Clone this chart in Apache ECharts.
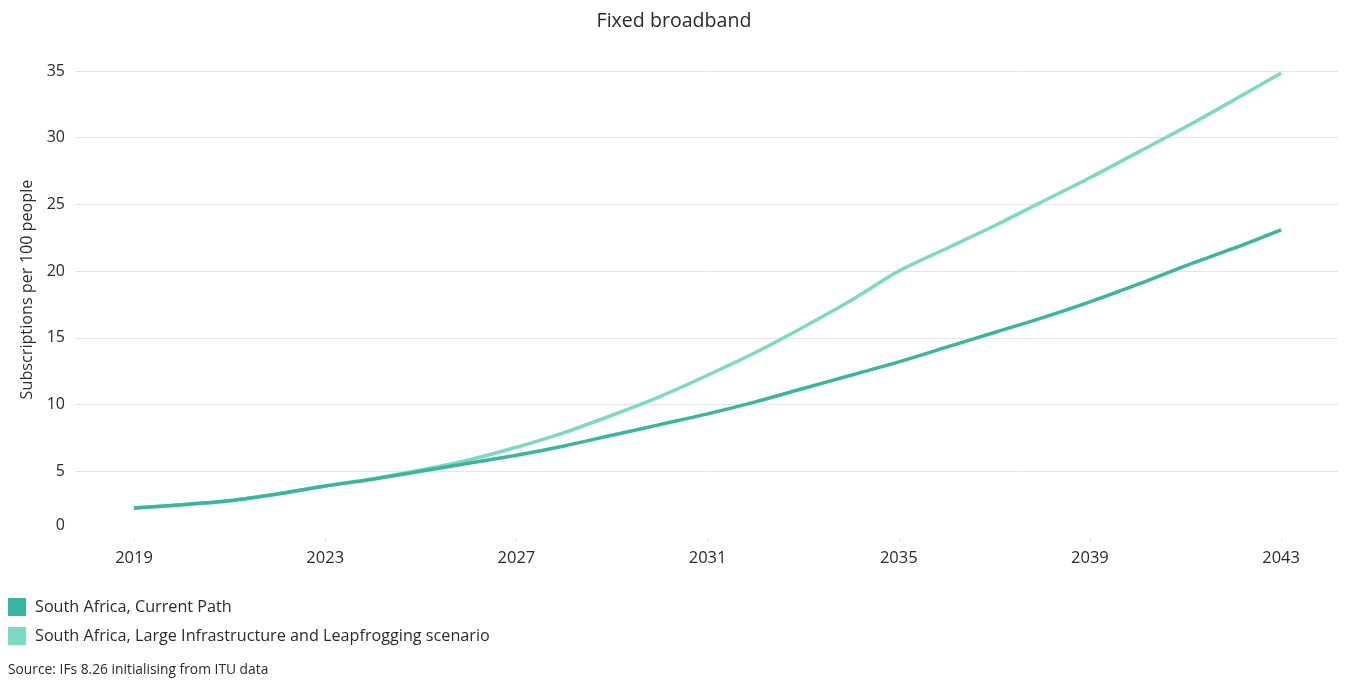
<!DOCTYPE html>
<html>
<head>
<meta charset="utf-8">
<title>Fixed broadband</title>
<script src="https://cdn.jsdelivr.net/npm/echarts@6/dist/echarts.min.js"></script>
<style>
  html, body { margin: 0; padding: 0; background: #fff; }
  #chart { width: 1348px; height: 682px; }
</style>
</head>
<body>
<div id="chart"></div>
<script>
// Years on the x axis
const years = [2019, 2020, 2021, 2022, 2023, 2024, 2025, 2026, 2027, 2028, 2029, 2030,
  2031, 2032, 2033, 2034, 2035, 2036, 2037, 2038, 2039, 2040, 2041, 2042, 2043];

// Fixed broadband subscriptions per 100 people
const currentPath = [2.25, 2.5, 2.8, 3.3, 3.9, 4.4, 5.0, 5.6, 6.2, 6.9, 7.7, 8.5,
  9.3, 10.2, 11.2, 12.2, 13.2, 14.3, 15.4, 16.5, 17.7, 19.0, 20.4, 21.7, 23.1];
const leapfrogging = [2.25, 2.5, 2.8, 3.3, 3.9, 4.45, 5.1, 5.85, 6.8, 7.9, 9.2, 10.6,
  12.2, 13.9, 15.8, 17.8, 20.0, 21.7, 23.4, 25.2, 27.0, 28.9, 30.8, 32.8, 34.85];

// Labelled years and series names
const yearTicks = [2019, 2023, 2027, 2031, 2035, 2039, 2043];
const seriesNames = ['South Africa, Current Path',
  'South Africa, Large Infrastructure and Leapfrogging scenario'];
const colors = ['#3bb59e', '#7dd8c6'];

const font = '"Open Sans", "Noto Sans", sans-serif';
const textColor = '#2b2b2b';

const chart = echarts.init(document.getElementById('chart'), null, { renderer: 'canvas' });

const pairs = (vals) => years.map((y, i) => [y, vals[i]]);

chart.setOption({
  animation: false,
  backgroundColor: '#fff',
  textStyle: { fontFamily: font },
  title: {
    text: 'Fixed broadband',
    left: 'center',
    top: 6,
    textStyle: { fontFamily: font, fontSize: 19.6, fontWeight: 'normal', color: textColor }
  },
  legend: {
    orient: 'vertical',
    left: 3,
    top: 593,
    itemWidth: 18,
    itemHeight: 18,
    itemGap: 11,
    icon: 'rect',
    textStyle: { fontFamily: font, fontSize: 16.2, color: textColor, padding: [0, 0, 0, 4] },
    data: seriesNames
  },
  graphic: [{
    type: 'text',
    left: 8,
    top: 663,
    style: { text: 'Source: IFs 8.26 initialising from ITU data', font: '13.8px ' + font, fill: textColor }
  }],
  grid: { left: 75, right: 10, top: 71, bottom: 144, containLabel: false },
  xAxis: {
    type: 'value',
    min: 2017.765,
    max: 2044.19,
    axisLine: { show: false },
    axisTick: { show: true, customValues: yearTicks, length: 4, lineStyle: { color: '#e6e6e6' } },
    axisLabel: {
      customValues: yearTicks,
      formatter: (v) => String(v),
      margin: 12,
      fontFamily: font,
      fontSize: 16.5,
      color: textColor
    },
    splitLine: { show: false }
  },
  yAxis: {
    type: 'value',
    min: 0,
    max: 35,
    interval: 5,
    name: 'Subscriptions per 100 people',
    nameLocation: 'middle',
    nameGap: 40,
    nameTextStyle: { fontFamily: font, fontSize: 16.2, color: textColor, padding: [0, 0, 0, 30] },
    axisLine: { show: false },
    axisTick: { show: false },
    axisLabel: {
      margin: 10,
      fontFamily: font,
      fontSize: 16,
      color: textColor,
      formatter: (v) => v === 0 ? '{z|0}' : String(v),
      rich: { z: { fontFamily: font, fontSize: 16, color: textColor, padding: [0, 0, 26, 0] } }
    },
    splitLine: { show: true, showMinLine: false, lineStyle: { color: '#e6e6e6', width: 1 } }
  },
  series: [
    {
      name: seriesNames[1],
      type: 'line',
      data: pairs(leapfrogging),
      smooth: 0.3,
      showSymbol: false,
      color: colors[1],
      lineStyle: { width: 3.5, color: colors[1] },
      itemStyle: { color: colors[1] },
      z: 2
    },
    {
      name: seriesNames[0],
      type: 'line',
      data: pairs(currentPath),
      smooth: 0.3,
      showSymbol: false,
      color: colors[0],
      lineStyle: { width: 3.5, color: colors[0] },
      itemStyle: { color: colors[0] },
      z: 3
    }
  ]
});
</script>
</body>
</html>
